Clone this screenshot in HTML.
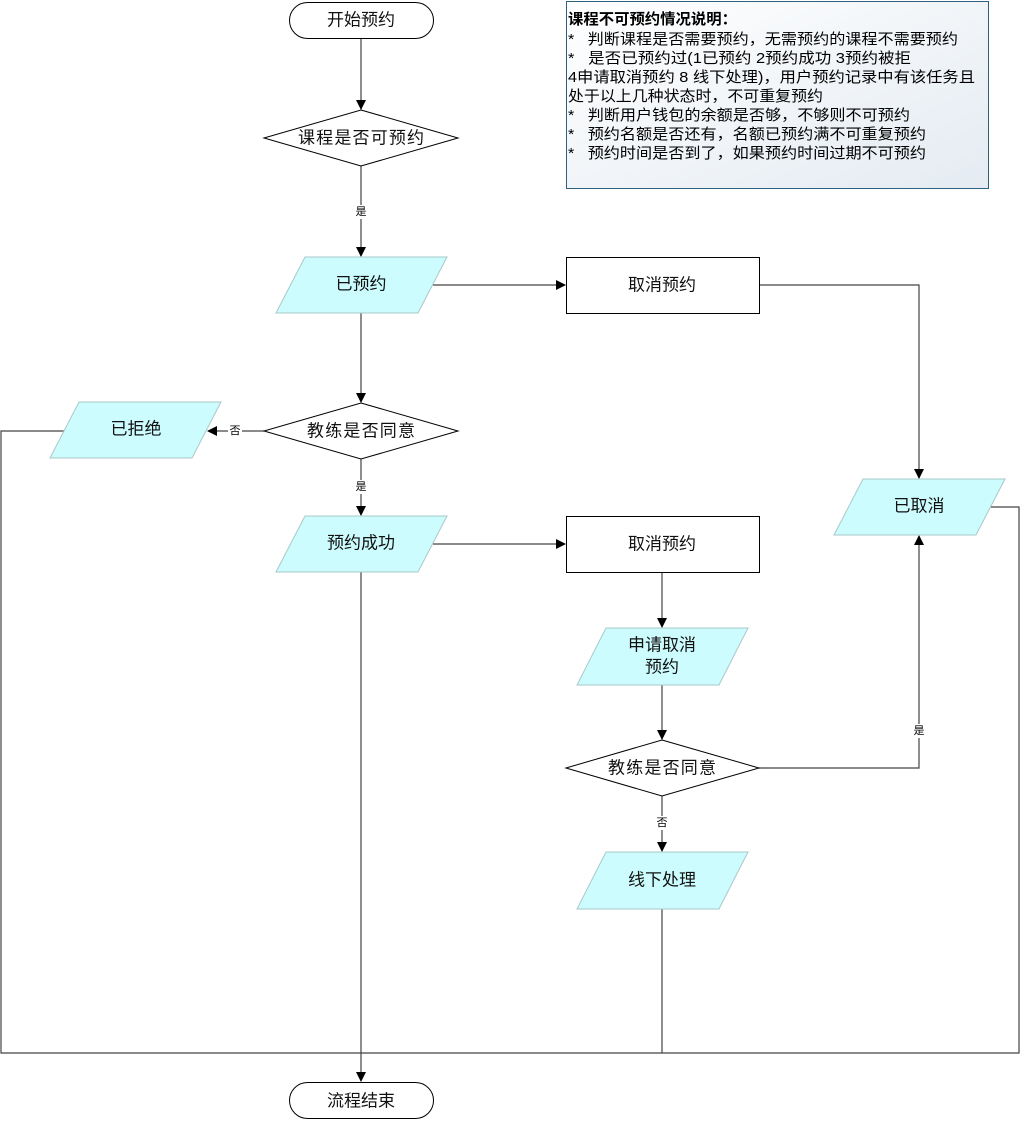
<!DOCTYPE html>
<html><head><meta charset="utf-8"><style>
body{margin:0;background:#fff;width:1021px;height:1122px;overflow:hidden;}
svg text{font-family:"Liberation Sans","Noto Sans CJK SC",sans-serif;}
</style></head><body>
<svg width="1021" height="1122" viewBox="0 0 1021 1122" xmlns="http://www.w3.org/2000/svg">
<defs>
<marker id="a" markerWidth="10" markerHeight="10" refX="9" refY="5" orient="auto" markerUnits="userSpaceOnUse">
<path d="M0,0 L10,5 L0,10 z" fill="#000"/></marker>
<linearGradient id="g" x1="0" y1="0" x2="1" y2="1"><stop offset="0" stop-color="#fff"/><stop offset="1" stop-color="#e4ebf2"/></linearGradient>
</defs>
<g fill="none" stroke="#444" stroke-width="1.2">
<line x1="361" y1="38" x2="361" y2="109" marker-end="url(#a)"/>
<line x1="361" y1="166" x2="361" y2="256" marker-end="url(#a)"/>
<line x1="433" y1="285" x2="565" y2="285" marker-end="url(#a)"/>
<polyline points="759,285 919,285 919,478" marker-end="url(#a)"/>
<line x1="361" y1="313" x2="361" y2="402" marker-end="url(#a)"/>
<line x1="264" y1="431" x2="208" y2="431" marker-end="url(#a)"/>
<polyline points="64,431 1,431 1,1053 361,1053"/>
<line x1="361" y1="459" x2="361" y2="515" marker-end="url(#a)"/>
<line x1="433" y1="544" x2="565" y2="544" marker-end="url(#a)"/>
<line x1="662" y1="572" x2="662" y2="627" marker-end="url(#a)"/>
<line x1="662" y1="685" x2="662" y2="739" marker-end="url(#a)"/>
<polyline points="759,768 919,768 919,536" marker-end="url(#a)"/>
<line x1="662" y1="796" x2="662" y2="851" marker-end="url(#a)"/>
<line x1="662" y1="909" x2="662" y2="1053"/>
<polyline points="990,507 1019,507 1019,1053 361,1053"/>
<line x1="361" y1="572" x2="361" y2="1081" marker-end="url(#a)"/>
</g>
<g stroke="#000" stroke-width="1" fill="#fff">
<rect x="289.5" y="2.5" width="144" height="36" rx="18"/>
<rect x="289.5" y="1082.5" width="144" height="36" rx="18"/>
<polygon points="361,110 458,138 361,166 264,138"/>
<polygon points="361,403 458,431 361,459 264,431"/>
<polygon points="662,740 759,768 662,796 566,768"/>
<rect x="566.5" y="257.5" width="193" height="56"/>
<rect x="566.5" y="516.5" width="193" height="56"/>
</g>
<g fill="#ccfcfd" stroke="#aac8c8" stroke-width="1">
<polygon points="305,257 447,257 418,313 276,313"/>
<polygon points="79,402 221,402 192,458 50,458"/>
<polygon points="305,516 447,516 418,572 276,572"/>
<polygon points="863,479 1005,479 976,535 834,535"/>
<polygon points="606,628 748,628 719,685 577,685"/>
<polygon points="606,852 748,852 719,909 577,909"/>
</g>
<rect x="566.5" y="1.5" width="422" height="187" fill="url(#g)" stroke="#2f5f80" stroke-width="1"/>
<g font-size="17" fill="#111" text-anchor="middle" dominant-baseline="central">
<text x="361" y="20">开始预约</text>
<text x="361" y="138" textLength="126">课程是否可预约</text>
<text x="361" y="284">已预约</text>
<text x="662" y="285">取消预约</text>
<text x="136" y="429">已拒绝</text>
<text x="361" y="431" textLength="108">教练是否同意</text>
<text x="919" y="506">已取消</text>
<text x="361" y="543">预约成功</text>
<text x="662" y="544">取消预约</text>
<text x="662" y="645">申请取消</text>
<text x="662" y="667">预约</text>
<text x="662" y="768" textLength="108">教练是否同意</text>
<text x="662" y="880">线下处理</text>
<text x="361" y="1101">流程结束</text>
</g>
<g font-size="11" fill="#000" text-anchor="middle" dominant-baseline="central">
<rect x="354" y="205" width="14" height="14" fill="#fff"/><text x="361" y="212">是</text>
<rect x="228" y="424" width="14" height="14" fill="#fff"/><text x="235" y="431">否</text>
<rect x="354" y="480" width="14" height="14" fill="#fff"/><text x="361" y="487">是</text>
<rect x="912" y="724" width="14" height="14" fill="#fff"/><text x="919" y="731">是</text>
<rect x="655" y="816" width="14" height="14" fill="#fff"/><text x="662" y="823">否</text>
</g>
<g font-size="15" fill="#000" lengthAdjust="spacingAndGlyphs">
<text x="568" y="24" font-weight="bold" textLength="169" lengthAdjust="spacingAndGlyphs">课程不可预约情况说明：</text>
<text x="568" y="44" textLength="390" lengthAdjust="spacingAndGlyphs">*&#160;&#160;&#160;判断课程是否需要预约，无需预约的课程不需要预约</text>
<text x="568" y="63" textLength="343" lengthAdjust="spacingAndGlyphs">*&#160;&#160;&#160;是否已预约过(1已预约 2预约成功 3预约被拒</text>
<text x="568" y="82" textLength="407" lengthAdjust="spacingAndGlyphs">4申请取消预约 8 线下处理)，用户预约记录中有该任务且</text>
<text x="568" y="101" textLength="255" lengthAdjust="spacingAndGlyphs">处于以上几种状态时，不可重复预约</text>
<text x="568" y="120" textLength="342" lengthAdjust="spacingAndGlyphs">*&#160;&#160;&#160;判断用户钱包的余额是否够，不够则不可预约</text>
<text x="568" y="139" textLength="358" lengthAdjust="spacingAndGlyphs">*&#160;&#160;&#160;预约名额是否还有，名额已预约满不可重复预约</text>
<text x="568" y="158" textLength="358" lengthAdjust="spacingAndGlyphs">*&#160;&#160;&#160;预约时间是否到了，如果预约时间过期不可预约</text>
</g>
</svg>
</body></html>
